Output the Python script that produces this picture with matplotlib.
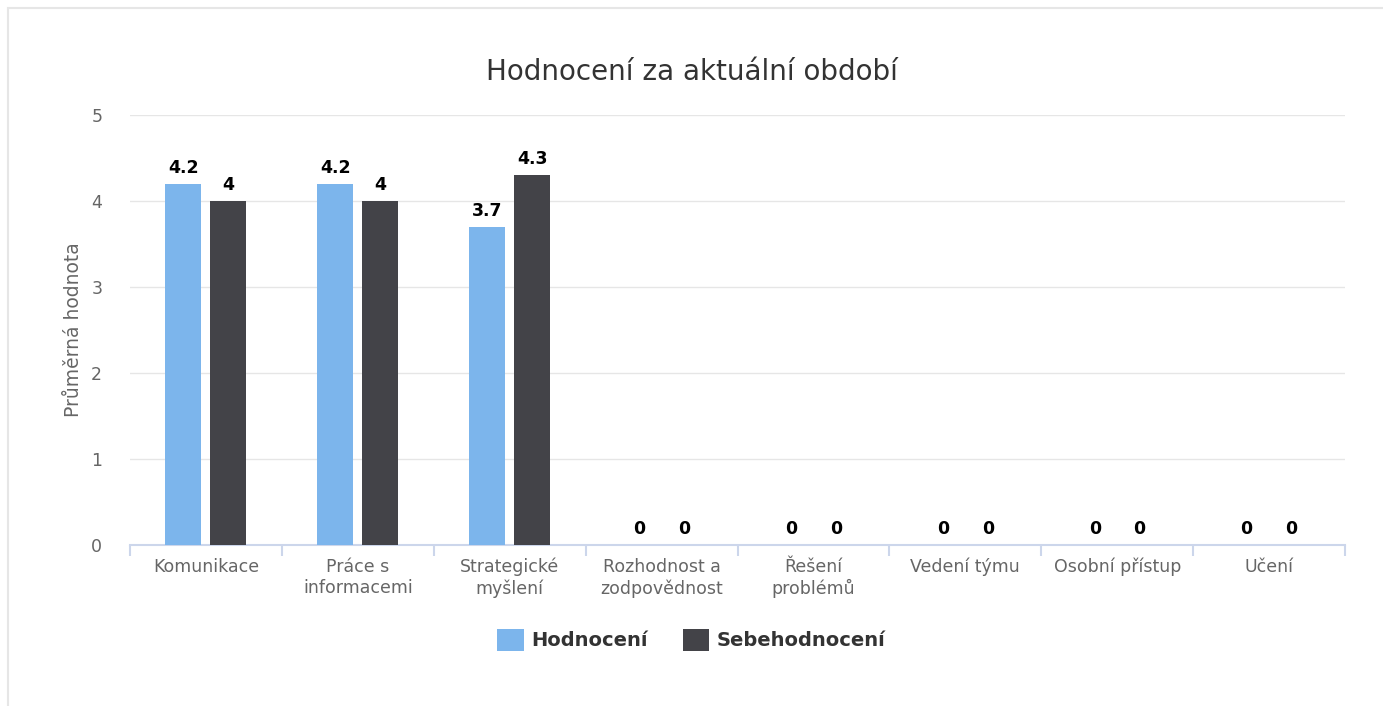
import matplotlib.pyplot as plt
import matplotlib.patches as mpatches
import numpy as np

plt.rcParams['font.family'] = ['DejaVu Sans']

categories = ['Komunikace', 'Práce s\ninformacemi', 'Strategické\nmyšlení',
              'Rozhodnost a\nzodpovědnost', 'Řešení\nproblémů', 'Vedení týmu',
              'Osobní přístup', 'Učení']
hodnoceni = [4.2, 4.2, 3.7, 0, 0, 0, 0, 0]
sebehodnoceni = [4, 4, 4.3, 0, 0, 0, 0, 0]

fig = plt.figure(figsize=(13.83, 7.06), dpi=100)
# light frame around the chart
fig.patches.append(mpatches.Rectangle((8 / 1383, -0.01), 1.0, (706 - 8) / 706 + 0.01,
                                      transform=fig.transFigure, fill=False,
                                      edgecolor='#e6e6e6', linewidth=1.5))

ax = fig.add_axes([130 / 1383, (706 - 545) / 706, 1215 / 1383, 430 / 706])

x = np.arange(len(categories))
w = 0.237
off = 0.148
b1 = ax.bar(x - off, hodnoceni, w, color='#7cb5ec', label='Hodnocení', zorder=3)
b2 = ax.bar(x + off, sebehodnoceni, w, color='#434348', label='Sebehodnocení', zorder=3)

for bars, vals in [(b1, hodnoceni), (b2, sebehodnoceni)]:
    for rect, v in zip(bars, vals):
        ax.annotate(f'{v:g}', (rect.get_x() + rect.get_width() / 2, v),
                    xytext=(0, 5), textcoords='offset points', ha='center', va='bottom',
                    fontsize=12.5, fontweight='bold', color='black')

ax.set_xlim(-0.5, len(categories) - 0.5)
ax.set_ylim(0, 5)
ax.set_yticks([0, 1, 2, 3, 4, 5])
ax.grid(axis='y', color='#e6e6e6', linewidth=1, zorder=0)
ax.set_axisbelow(True)

for s in ['top', 'right', 'left']:
    ax.spines[s].set_visible(False)
ax.spines['bottom'].set_color('#ccd6eb')
ax.spines['bottom'].set_linewidth(1.5)

ax.set_xticks(x)
ax.set_xticklabels(categories, linespacing=1.25)
ax.set_xticks(np.arange(-0.5, len(categories)), minor=True)
ax.tick_params(axis='x', which='major', length=0, pad=9, labelsize=12.5, labelcolor='#666666')
ax.tick_params(axis='x', which='minor', length=8, color='#ccd6eb', width=1.5)
ax.tick_params(axis='y', length=0, pad=20, labelsize=12.5, labelcolor='#666666')

ax.set_ylabel('Průměrná hodnota', fontsize=13.5, color='#666666', labelpad=6)
fig.text(0.5, 1 - 72 / 706, 'Hodnocení za aktuální období', ha='center', va='center',
         fontsize=20, color='#333333')

leg = fig.legend(handles=[b1, b2], loc='center', bbox_to_anchor=(0.5, 1 - 640 / 706),
                 ncol=2, frameon=False, handlelength=1.35, handleheight=1.35,
                 handletextpad=0.4, columnspacing=1.8,
                 prop={'weight': 'bold', 'size': 14})
for t in leg.get_texts():
    t.set_color('#333333')

fig.savefig('out.png', dpi=100)
